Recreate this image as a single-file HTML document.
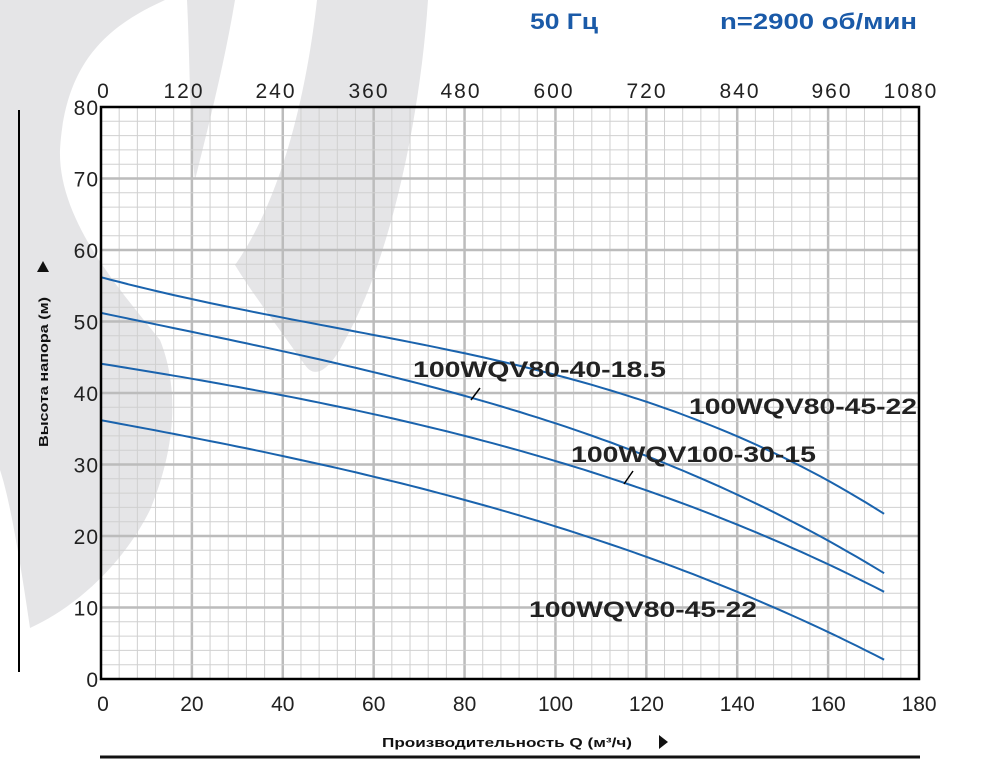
<!DOCTYPE html>
<html><head><meta charset="utf-8"><style>
body{margin:0;background:#fff;}
svg{display:block;font-family:"Liberation Sans",Arial,sans-serif;}
</style></head><body>
<svg width="1000" height="766" viewBox="0 0 1000 766" xmlns="http://www.w3.org/2000/svg">
<rect width="1000" height="766" fill="#fff"/>
<g fill="#e5e5e7">
<path d="M0,0 L165,0 C110,25 65,60 60,150 C58,220 120,290 160,340 C180,390 175,450 150,510 C120,570 70,610 30,628 C20,560 10,500 0,470 Z"/>
<path d="M187,0 L235,0 C225,60 210,120 195,180 C190,140 190,60 187,0 Z"/>
<path d="M317,0 L428,0 C420,120 390,260 345,340 C330,370 315,380 305,365 C280,330 250,290 235,265 C260,230 300,150 317,0 Z"/>
</g>
<g id="grid"></g>
<g id="curves" stroke="#1a63ad" stroke-width="2" fill="none"></g>
<g stroke="#000" stroke-width="1.5">
<line x1="471" y1="400" x2="480" y2="388"/>
<line x1="624" y1="484" x2="633" y2="471"/>
</g>
<rect x="101" y="107" width="818" height="572" fill="none" stroke="#000" stroke-width="2.5"/>
<g font-weight="bold" font-size="22" fill="#222">
<text x="413" y="377" textLength="253" lengthAdjust="spacingAndGlyphs">100WQV80-40-18.5</text>
<text x="689" y="414" textLength="228" lengthAdjust="spacingAndGlyphs">100WQV80-45-22</text>
<text x="571" y="462" textLength="245" lengthAdjust="spacingAndGlyphs">100WQV100-30-15</text>
<text x="529" y="617" textLength="228" lengthAdjust="spacingAndGlyphs">100WQV80-45-22</text>
</g>
<g font-size="21" fill="#222" text-anchor="middle" letter-spacing="2">
<text x="104" y="98">0</text><text x="184" y="98">120</text><text x="276" y="98">240</text><text x="369" y="98">360</text><text x="461" y="98">480</text><text x="554" y="98">600</text><text x="647" y="98">720</text><text x="740" y="98">840</text><text x="832" y="98">960</text><text x="911" y="98">1080</text>
</g>
<g font-size="21" fill="#222" text-anchor="end" id="yl" letter-spacing="1"></g>
<g font-size="21" fill="#222" text-anchor="middle" id="xl"></g>
<text x="530" y="29" font-size="22" font-weight="bold" fill="#1a5aa8" textLength="68" lengthAdjust="spacingAndGlyphs">50 Гц</text>
<text x="720" y="29" font-size="22" font-weight="bold" fill="#1a5aa8" textLength="197" lengthAdjust="spacingAndGlyphs">n=2900 об/мин</text>
<line x1="19" y1="110" x2="19" y2="672" stroke="#000" stroke-width="2"/>
<text transform="translate(48,372) rotate(-90)" font-size="13" font-weight="bold" text-anchor="middle" fill="#111" textLength="150" lengthAdjust="spacingAndGlyphs">Высота напора (м)</text>
<path d="M37,272 L49,272 L43,261 Z" fill="#111"/>
<text x="382" y="747" font-size="13" font-weight="bold" fill="#111" textLength="250" lengthAdjust="spacingAndGlyphs">Производительность Q (м³/ч)</text>
<path d="M659,735 L659,749 L668,742 Z" fill="#111"/>
<line x1="100" y1="757" x2="920" y2="757" stroke="#111" stroke-width="3"/>
</svg>
<script>
var ns="http://www.w3.org/2000/svg",g=document.getElementById("grid");
function L(x1,y1,x2,y2,c,w){var l=document.createElementNS(ns,"line");l.setAttribute("x1",x1);l.setAttribute("y1",y1);l.setAttribute("x2",x2);l.setAttribute("y2",y2);l.setAttribute("stroke",c);l.setAttribute("stroke-width",w);g.appendChild(l);}
for(var i=1;i<45;i++){var x=101+i*818/45;L(x,107,x,679,i%5?"#d0d0d0":"#bcbcbc",i%5?1:2.5);}
for(var j=1;j<40;j++){var y=107+j*572/40;L(101,y,919,y,j%5?"#d0d0d0":"#bcbcbc",j%5?1:2.5);}
var yl=document.getElementById("yl"),xl=document.getElementById("xl");
for(var k=0;k<=8;k++){var t=document.createElementNS(ns,"text");t.setAttribute("x",99);t.setAttribute("y",679-k*71.5+8);t.textContent=k*10;yl.appendChild(t);}
for(var m=0;m<=9;m++){var t2=document.createElementNS(ns,"text");t2.setAttribute("x",101+m*90.9+(m==0?2:0));t2.setAttribute("y",711);t2.textContent=m*20;xl.appendChild(t2);}
var Q=[0,65.8,120.8,172.3];
var H=[[56.2,47.4,38.6,23.1],[51.2,42.0,31.0,14.8],[44.1,36.2,26.2,12.2],[36.2,27.4,16.9,2.7]];
function lag(h,q){var s=0;for(var i=0;i<4;i++){var p=h[i];for(var j=0;j<4;j++)if(j!=i)p*=(q-Q[j])/(Q[i]-Q[j]);s+=p;}return s;}
var cg=document.getElementById("curves");
H.forEach(function(h){var d="";for(var n=0;n<=86;n++){var q=172.3*n/86;
d+=(d?" L":"M")+(101+q*4.545).toFixed(1)+","+(679-lag(h,q)*7.15).toFixed(1);}
var e=document.createElementNS(ns,"path");e.setAttribute("d",d);cg.appendChild(e);});
</script>
</body></html>
